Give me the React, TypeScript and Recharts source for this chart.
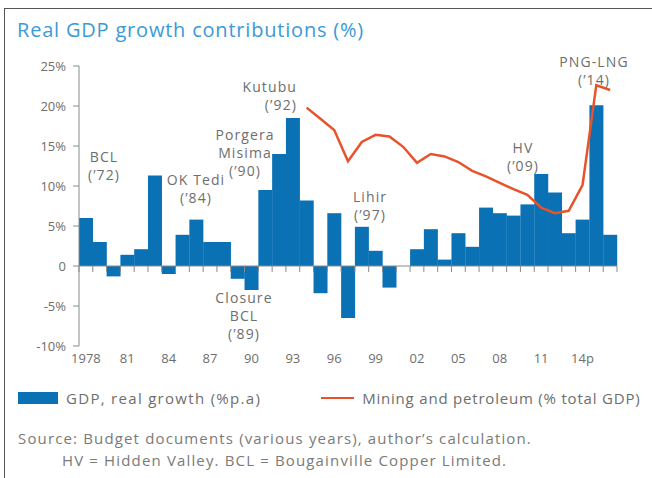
import React from "react";
import {
  Bar,
  ComposedChart,
  Line,
  ReferenceLine,
  XAxis,
  YAxis,
} from "recharts";

// one category per year, 1978 to 2016
const years = [
  1978, 1979, 1980, 1981, 1982, 1983, 1984, 1985, 1986, 1987, 1988, 1989, 1990,
  1991, 1992, 1993, 1994, 1995, 1996, 1997, 1998, 1999, 2000, 2001, 2002, 2003,
  2004, 2005, 2006, 2007, 2008, 2009, 2010, 2011, 2012, 2013, 2014, 2015, 2016,
];

// GDP, real growth (% p.a.)
const gdpGrowth = [
  6.0, 3.0, -1.3, 1.4, 2.1, 11.3, -1.0, 3.9, 5.8, 3.0, 3.0, -1.6, -3.0, 9.5,
  14.0, 18.5, 8.2, -3.4, 6.6, -6.5, 4.9, 1.9, -2.7, 0, 2.1, 4.6, 0.8, 4.1, 2.4,
  7.3, 6.6, 6.3, 7.7, 11.5, 9.2, 4.1, 5.8, 20.1, 3.9,
];

// Mining and petroleum (% total GDP), only from the mid nineties
const miningShare = [
  null, null, null, null, null, null, null, null, null, null, null, null, null,
  null, null, null, 19.8, 18.4, 17.0, 13.1, 15.5, 16.4, 16.2, 14.9, 12.9, 14.0,
  13.7, 13.0, 11.9, 11.2, 10.4, 9.6, 8.9, 7.3, 6.6, 6.9, 10.1, 22.6, 22.0,
];

const tickYears = [1978, 1981, 1984, 1987, 1990, 1993, 1996, 1999, 2002, 2005, 2008, 2011, 2014];
const tickLabels = ["1978", "81", "84", "87", "90", "93", "96", "99", "02", "05", "08", "11", "14p"];
const yTicks = [-10, -5, 0, 5, 10, 15, 20, 25];

const notes = [
  { lines: ["BCL", "(\u201972)"], x: 104, y: 157, anchor: "middle" },
  { lines: ["OK Tedi", "(\u201984)"], x: 196, y: 180, anchor: "middle" },
  { lines: ["Porgera", "Misima", "(\u201990)"], x: 245, y: 135, anchor: "middle" },
  { lines: ["Kutubu", "(\u201992)"], x: 297, y: 87, anchor: "end" },
  { lines: ["Closure", "BCL", "(\u201989)"], x: 244, y: 298, anchor: "middle" },
  { lines: ["Lihir", "(\u201997)"], x: 370, y: 197, anchor: "middle" },
  { lines: ["HV", "(\u201909)"], x: 523, y: 148, anchor: "middle" },
  { lines: ["PNG-LNG", "(\u201914)"], x: 594, y: 62, anchor: "middle" },
];

const data = years.map((year, i) => ({
  year,
  gdp: gdpGrowth[i],
  mining: miningShare[i],
}));

const FONT = "'Open Sans', sans-serif";
const GREY = "#6e6e6e";
const BLUE = "#0b71b5";
const ORANGE = "#e8532b";

const W = 652;
const CHART_H = 380;
const TOP = 66;
const LEFT = 79;
const RIGHT = 35;
const PLOT_H = 280;
const ZERO_Y = TOP + (PLOT_H * 25) / 35;
const BAND = (W - LEFT - RIGHT) / years.length;

function YearTick(props: any) {
  const { x, payload, index } = props;
  const k = tickYears.indexOf(payload.value);
  const edge = x - BAND / 2;
  return (
    <g>
      <line x1={edge} x2={edge} y1={ZERO_Y} y2={ZERO_Y + 6} stroke="#8a8a8a" />
      {index === years.length - 1 && (
        <line x1={x + BAND / 2} x2={x + BAND / 2} y1={ZERO_Y} y2={ZERO_Y + 6} stroke="#8a8a8a" />
      )}
      {k >= 0 && (
        <text
          x={x}
          y={TOP + PLOT_H + 17}
          textAnchor="middle"
          fill={GREY}
          fontSize={13}
          fontFamily={FONT}
        >
          {tickLabels[k]}
        </text>
      )}
    </g>
  );
}

export default function App() {
  return (
    <div
      style={{
        position: "absolute",
        left: 0,
        top: 0,
        width: W,
        height: 478,
        overflow: "hidden",
        background: "#fff",
        fontFamily: FONT,
      }}
    >
      <div
        style={{
          position: "absolute",
          left: 4,
          top: 8,
          width: 700,
          height: 520,
          border: "1.5px solid #555",
        }}
      />
      <div
        style={{
          position: "absolute",
          left: 17,
          top: 16,
          fontSize: 20,
          letterSpacing: 0.8,
          color: "#3b9ad6",
          whiteSpace: "nowrap",
        }}
      >
        Real GDP growth contributions (%)
      </div>

      <div style={{ position: "absolute", left: 0, top: 0 }}>
        <ComposedChart
          width={W}
          height={CHART_H}
          data={data}
          margin={{ top: TOP, right: RIGHT, bottom: 0, left: 0 }}
          barCategoryGap={0}
          barGap={0}
        >
          <XAxis
            dataKey="year"
            interval={0}
            height={CHART_H - TOP - PLOT_H}
            axisLine={false}
            tickLine={false}
            tick={<YearTick />}
          />
          <YAxis
            width={LEFT}
            domain={[-10, 25]}
            ticks={yTicks}
            allowDataOverflow
            tickSize={6}
            tickMargin={7}
            axisLine={{ stroke: "#8a8a8a" }}
            tickLine={{ stroke: "#8a8a8a" }}
            tick={{ fill: GREY, fontSize: 13, fontFamily: FONT }}
            tickFormatter={(v: number) => (v === 0 ? "0" : `${v}%`)}
          />
          <ReferenceLine y={0} stroke="#8a8a8a" />
          <Bar dataKey="gdp" fill={BLUE} isAnimationActive={false} />
          <Line
            dataKey="mining"
            type="linear"
            stroke={ORANGE}
            strokeWidth={2.5}
            dot={false}
            isAnimationActive={false}
          />
        </ComposedChart>
      </div>

      <svg
        width={W}
        height={CHART_H}
        style={{ position: "absolute", left: 0, top: 0, pointerEvents: "none" }}
      >
        {notes.map((n) => (
          <text
            key={n.lines[0] + n.x}
            x={n.x}
            y={n.y + 5}
            textAnchor={n.anchor as any}
            fill={GREY}
            fontSize={14}
            letterSpacing={1.1}
            fontFamily={FONT}
          >
            {n.lines.map((l, i) => (
              <tspan key={i} x={n.x} dy={i === 0 ? 0 : 18}>
                {l}
              </tspan>
            ))}
          </text>
        ))}
      </svg>

      <div
        style={{
          position: "absolute",
          left: 18,
          top: 388,
          display: "flex",
          alignItems: "center",
          whiteSpace: "nowrap",
          fontSize: 15,
          letterSpacing: 1.3,
          color: GREY,
        }}
      >
        <span style={{ width: 40, height: 12, background: BLUE, marginRight: 8 }} />
        <span>GDP, real growth (%p.a)</span>
        <span
          style={{
            width: 33,
            height: 2.5,
            background: ORANGE,
            marginLeft: 60,
            marginRight: 8,
          }}
        />
        <span style={{ letterSpacing: 0.8 }}>Mining and petroleum (% total GDP)</span>
      </div>

      <div
        style={{
          position: "absolute",
          left: 18,
          top: 427,
          fontSize: 15,
          letterSpacing: 1.15,
          lineHeight: "22px",
          color: "#7a7a7a",
          whiteSpace: "nowrap",
        }}
      >
        <div>Source: Budget documents (various years), author’s calculation.</div>
        <div style={{ paddingLeft: 44 }}>
          HV = Hidden Valley. BCL = Bougainville Copper Limited.
        </div>
      </div>
    </div>
  );
}
